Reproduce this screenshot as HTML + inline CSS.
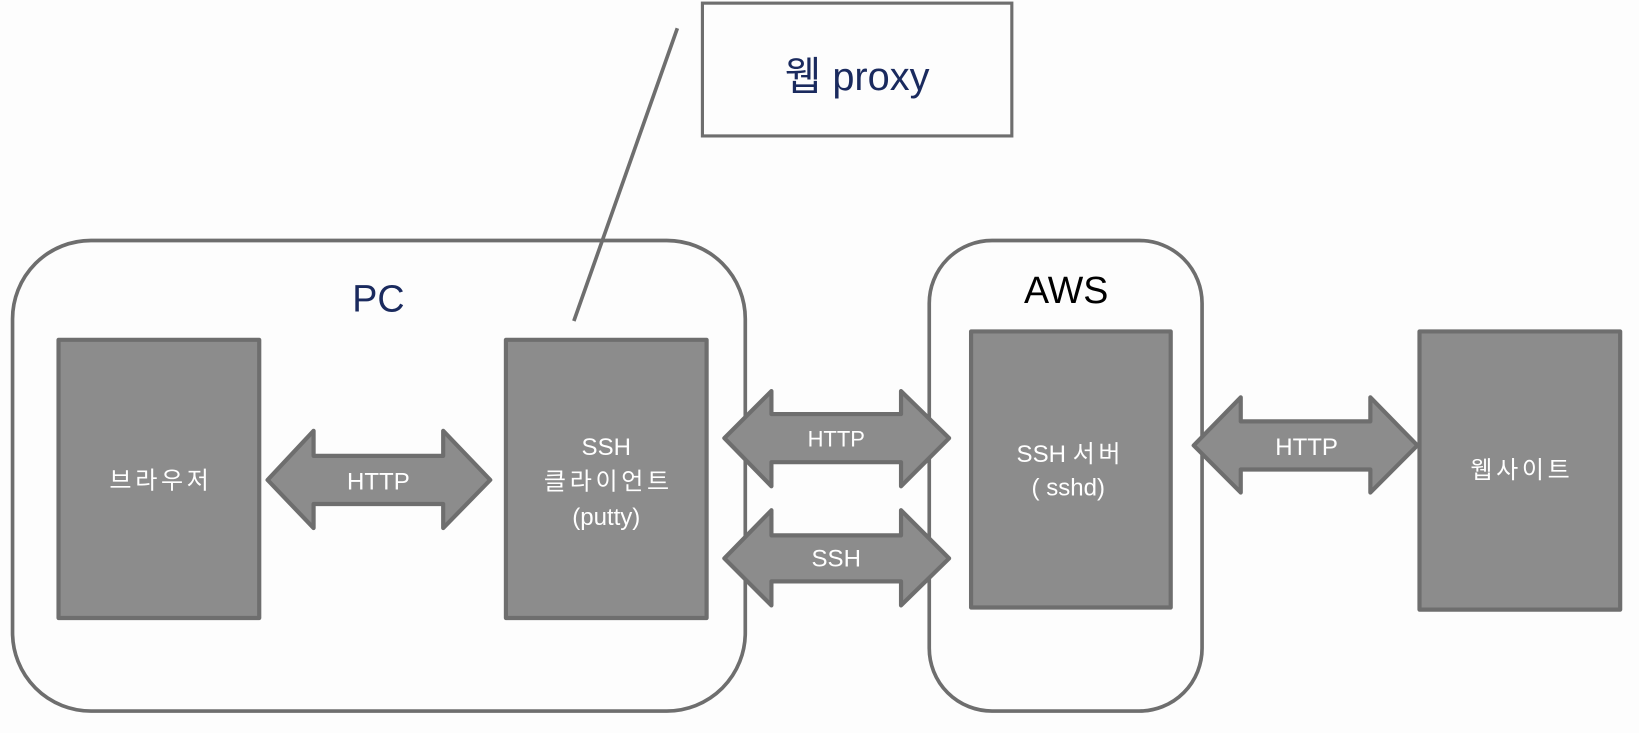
<!DOCTYPE html>
<html><head><meta charset="utf-8"><style>
html,body{margin:0;padding:0;background:#fdfdfd;}
svg{display:block;}
text{font-family:"Liberation Sans","Noto Sans CJK KR",sans-serif;}
.k{letter-spacing:3.5px;}
</style></head><body>
<svg width="1639" height="733" viewBox="0 0 1568 701" preserveAspectRatio="none" xmlns="http://www.w3.org/2000/svg">
<rect x="0" y="0" width="1568" height="701" fill="#fdfdfd"/>
<g fill="none" stroke="#6e6e6e" stroke-width="3.5">
<rect x="12" y="230" width="701" height="450" rx="75"/>
<rect x="889" y="230" width="261" height="450" rx="60"/>
<rect x="672" y="3" width="296" height="127" stroke-width="3"/>
<line x1="648" y1="27" x2="549" y2="307"/>
</g>
<g fill="#8c8c8c" stroke="#6e6e6e" stroke-width="4" stroke-linejoin="round">
<rect x="56" y="325" width="192" height="266"/>
<rect x="484" y="325" width="192" height="266"/>
<rect x="929" y="317" width="191" height="264"/>
<rect x="1358" y="317" width="192" height="266"/>
<path d="M256 459 L300 412 L300 436 L424 436 L424 412 L469 459 L424 505 L424 482 L300 482 L300 505 Z"/>
<path d="M693 419 L738 374 L738 396 L862 396 L862 374 L908 419 L862 465 L862 442 L738 442 L738 465 Z"/>
<path d="M693 534 L738 488 L738 512 L862 512 L862 488 L908 534 L862 579 L862 556 L738 556 L738 579 Z"/>
<path d="M1142 426 L1187 380 L1187 403 L1311 403 L1311 380 L1356 426 L1311 471 L1311 449 L1187 449 L1187 471 Z"/>
</g>
<g text-anchor="middle">
<text x="362" y="298" font-size="36" fill="#1a2a5e">PC</text>
<text x="1020" y="290" font-size="36" fill="#000">AWS</text>
<text x="820" y="86" font-size="38" fill="#1a2a5e">웹 proxy</text>
<g fill="#fff" font-size="23">
<text x="154" y="467" class="k">브라우저</text>
<text x="362" y="468">HTTP</text>
<text x="580" y="435">SSH</text>
<text x="582" y="468" class="k">클라이언트</text>
<text x="580" y="502">(putty)</text>
<text x="800" y="427" font-size="21">HTTP</text>
<text x="800" y="542">SSH</text>
<text x="1024" y="442">SSH <tspan class="k">서버</tspan></text>
<text x="1022" y="474">( sshd)</text>
<text x="1250" y="435">HTTP</text>
<text x="1456" y="457" class="k">웹사이트</text>
</g>
</g>
</svg>
</body></html>
